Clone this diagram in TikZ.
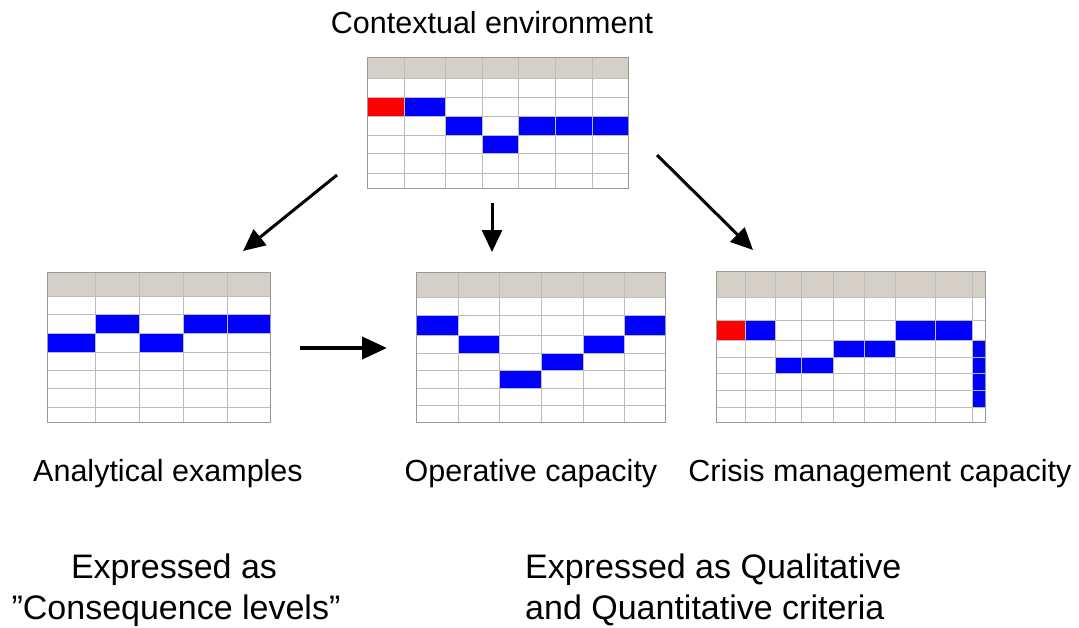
\documentclass[tikz,border=0pt]{standalone}
\usepackage{fontspec}
\setmainfont{Liberation Sans}
\usetikzlibrary{arrows.meta}
\definecolor{hdrgray}{HTML}{D4D0C8}
\definecolor{gridgray}{HTML}{BDBDBD}
\definecolor{cellblue}{HTML}{0000FF}
\definecolor{cellred}{HTML}{FF0000}
\tikzset{
  lbl/.style={font=\fontsize{30.5}{34}\selectfont, inner sep=0pt, anchor=base},
  biglbl/.style={font=\fontsize{34}{38}\selectfont, inner sep=0pt, anchor=base},
  tablebox/.style={draw=none, inner sep=0pt, anchor=north west},
  gridline/.style={draw=gridgray, line width=0.6pt},
  hdr/.style={fill=hdrgray},
  bluecell/.style={fill=cellblue},
  redcell/.style={fill=cellred},
  bigarrow/.style={line width=3pt, -{Triangle[length=22pt,width=20pt]}},
}
% draw table grid: #1 = column x list, #2 = row y list, #3 = left, #4 = right, #5 = top, #6 = bottom
\newcommand{\tablegrid}[6]{%
  \foreach \cx in {#1} {\draw[gridline] (\cx,#5) -- (\cx,#6);}
  \foreach \ry in {#2} {\draw[gridline] (#3,\ry) -- (#4,\ry);}
  \draw[draw=gridgray!80!black, line width=0.8pt] (#3,#5) rectangle (#4,#6);
}
\begin{document}
\begin{tikzpicture}[x=1pt,y=-1pt]
\useasboundingbox (0,0) rectangle (1079,627);
\fill[white] (0,0) rectangle (1079,627);

% ---------- Table 1: contextual environment ----------
\node[tablebox, minimum width=261pt, minimum height=131pt] (ctx) at (367,57) {};
\fill[hdr] (367,57) rectangle (628,78);
\fill[redcell] (367,97) rectangle (404,116);
\fill[bluecell] (404,97) rectangle (445,116);
\fill[bluecell] (445,116) rectangle (482,135);
\fill[bluecell] (518,116) rectangle (628,135);
\fill[bluecell] (482,135) rectangle (518,153);
\tablegrid{404,445,482,518,555,592}{78,97,116,135,153,173}{367}{628}{57}{188}

% ---------- Table 2: analytical examples ----------
\node[tablebox, minimum width=223pt, minimum height=150pt] (ana) at (47,272) {};
\fill[hdr] (47,272) rectangle (270,296);
\fill[bluecell] (95,314) rectangle (139,333);
\fill[bluecell] (183,314) rectangle (270,333);
\fill[bluecell] (47,333) rectangle (95,352);
\fill[bluecell] (139,333) rectangle (183,352);
\tablegrid{95,139,183,227}{296,314,333,352,370,388,407}{47}{270}{272}{422}

% ---------- Table 3: operative capacity ----------
\node[tablebox, minimum width=249pt, minimum height=150pt] (ope) at (416,272) {};
\fill[hdr] (416,272) rectangle (665,297);
\fill[bluecell] (416,315) rectangle (458,335);
\fill[bluecell] (624,315) rectangle (665,335);
\fill[bluecell] (458,335) rectangle (499,353);
\fill[bluecell] (583,335) rectangle (624,353);
\fill[bluecell] (541,353) rectangle (583,370);
\fill[bluecell] (499,370) rectangle (541,388);
\tablegrid{458,499,541,583,624}{297,315,335,353,370,388,405}{416}{665}{272}{422}

% ---------- Table 4: crisis management capacity ----------
\node[tablebox, minimum width=269pt, minimum height=151pt] (cri) at (716,271) {};
\fill[hdr] (716,271) rectangle (985,297);
\fill[redcell] (716,320) rectangle (745,340);
\fill[bluecell] (745,320) rectangle (775,340);
\fill[bluecell] (895,320) rectangle (972,340);
\fill[bluecell] (833,340) rectangle (895,357);
\fill[bluecell] (972,340) rectangle (985,407);
\fill[bluecell] (775,357) rectangle (833,373);
\tablegrid{745,775,801,833,864,895,935,972}{297,320,340,357,373,390,407}{716}{985}{271}{422}

% ---------- Labels ----------
\node[lbl] (tctx) at (492,33) {Contextual environment};
\node[lbl] (tana) at (168,481) {Analytical examples};
\node[lbl] (tope) at (531,481) {Operative capacity};
\node[lbl] (tcri) at (880,481) {Crisis management capacity};
\node[biglbl] (e1a) at (174,578) {Expressed as};
\node[biglbl] (e1b) at (176,619) {”Consequence levels”};
\node[biglbl, anchor=base west] (e2a) at (525,578) {Expressed as Qualitative};
\node[biglbl, anchor=base west] (e2b) at (525,619) {and Quantitative criteria};

% ---------- Arrows ----------
\coordinate (a1s) at (337,175);
\coordinate (a1e) at (243,251);
\coordinate (a2s) at (657,155);
\coordinate (a2e) at (753,250);
\coordinate (a3s) at (300,348);
\coordinate (a3e) at (387,348);
\coordinate (a4s) at (492,203);
\coordinate (a4e) at (492,252);
\draw[bigarrow] (a1s) -- (a1e);
\draw[bigarrow] (a2s) -- (a2e);
\draw[bigarrow, line width=4pt, -{Triangle[length=25pt,width=22pt]}] (a3s) -- (a3e);
\draw[bigarrow] (a4s) -- (a4e);
\end{tikzpicture}
\end{document}
